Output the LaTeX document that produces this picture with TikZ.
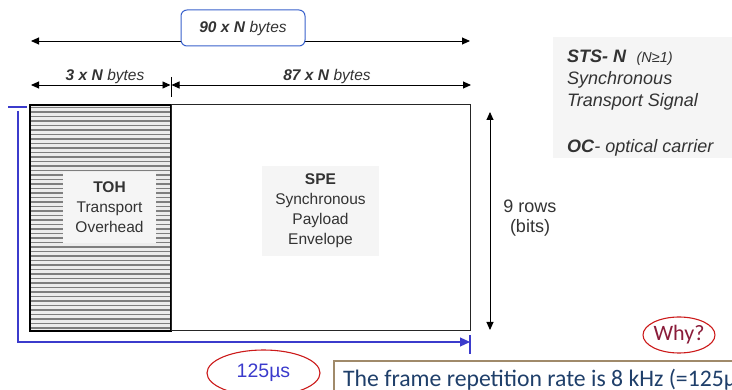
\documentclass[tikz,border=0pt]{standalone}
\usepackage{fontspec}
\setmainfont{Liberation Sans}
\newfontfamily\calibfont{Carlito}
\usetikzlibrary{arrows.meta,shapes.geometric}
\definecolor{labelgray}{HTML}{333333}
\definecolor{panelfill}{HTML}{F5F5F5}
\definecolor{hatchgray}{HTML}{7F7F7F}
\definecolor{hatchbg}{HTML}{EDEDED}
\definecolor{periodblue}{HTML}{3B3BCC}
\definecolor{boxblue}{HTML}{3A62CC}
\definecolor{ringred}{HTML}{CC1A1A}
\definecolor{whyred}{HTML}{8A1C3A}
\definecolor{notebrown}{HTML}{A08A6A}
\definecolor{noteblue}{HTML}{1F3F6A}
\tikzset{
  dimline/.style={draw=black, line width=0.9pt, {Triangle[length=8pt,width=7pt]}-{Triangle[length=8pt,width=7pt]}},
  sizefont/.style={font=\fontsize{15.5}{18}\selectfont, text=labelgray},
  blocklabel/.style={fill=panelfill, align=center, inner sep=0pt, text=labelgray, font=\fontsize{15.5}{20}\selectfont},
  sidefont/.style={font=\fontsize{18}{22}\selectfont, text=labelgray, align=left, anchor=west, inner sep=0pt},
  ring/.style={ellipse, draw=ringred, line width=1.1pt, inner sep=0pt},
  period/.style={draw=periodblue, line width=1.2pt}
}
\begin{document}
\begin{tikzpicture}[x=1pt,y=-1pt]
\clip (0,0) rectangle (732,390);
\fill[white] (0,0) rectangle (732,390);

% frame corners
\coordinate (fTL) at (30,105);
\coordinate (fDiv) at (171,105);
\coordinate (fDivB) at (171,331);
\coordinate (fBR) at (470,331);

% transport overhead columns: striped area
\fill[hatchbg] (fTL) rectangle (fDivB);
\foreach \yy in {107.5,112,...,329}
  \draw[hatchgray, line width=1.7pt] (30.5,\yy) -- (170.5,\yy);
\draw[black, line width=1.2pt] (fTL) rectangle (fDivB);
\draw[black!85, line width=1pt] (fDiv) rectangle (fBR);

% labels inside the frame
\node[blocklabel, minimum width=93pt, minimum height=71pt] (toh) at (109.5,207.5)
  {\textbf{TOH}\\Transport\\Overhead};
\node[blocklabel, minimum width=117pt, minimum height=90pt] (spe) at (320.5,211)
  {\textbf{SPE}\\Synchronous\\Payload\\Envelope};

% overall width
\coordinate (wL) at (31,41);
\coordinate (wR) at (470,41);
\draw[dimline] (wL) -- (wR);
\node[draw=boxblue, line width=1pt, rounded corners=6pt, fill=white,
      minimum width=124pt, minimum height=36pt, sizefont] (total) at (243,28)
  {\raisebox{-3pt}{\textbf{\textit{90 x N}} \textit{bytes}}};

% overhead and payload widths
\coordinate (pL) at (31,85);
\coordinate (pM1) at (170.5,85);
\coordinate (pM2) at (171.5,85);
\coordinate (pR) at (471,85);
\coordinate (tickT) at (171,77);
\coordinate (tickB) at (171,97);
\draw[dimline] (pL) -- (pM1);
\draw[dimline] (pM2) -- (pR);
\draw[black, line width=0.9pt] (tickT) -- (tickB);
\node[sizefont] (ohw) at (105,76) {\textbf{\textit{3 x N}} \textit{bytes}};
\node[sizefont] (plw) at (327,76) {\textbf{\textit{87 x N}} \textit{bytes}};

% row count
\coordinate (rT) at (490,112);
\coordinate (rB) at (490,330);
\draw[dimline] (rT) -- (rB);
\node[font=\fontsize{18}{19}\selectfont, text=labelgray, align=center, inner sep=0pt] (rows) at (530,218)
  {9 rows\\[1pt](bits)};

% side notes
\fill[panelfill] (553,37) rectangle (732,158);
\node[sidefont] (sts) at (567,58)
  {\textbf{\textit{STS- N}}\ \ {\fontsize{14.5}{16}\selectfont\textit{(N≥1)}}};
\node[sidefont] (stsname) at (567,80) {\textit{Synchronous}};
\node[sidefont] (stsname2) at (567,102) {\textit{Transport Signal}};
\node[sidefont] (oc) at (567,148) {\textbf{\textit{OC}}\textit{- optical carrier}};

% frame period bracket
\coordinate (bTickL) at (8,107);
\coordinate (bTickR) at (27,107);
\coordinate (bTop) at (18,111);
\coordinate (bCorner) at (18,342);
\coordinate (bEnd) at (470,342);
\coordinate (eTickT) at (470,335);
\coordinate (eTickB) at (470,354);
\draw[period] (bTickL) -- (bTickR);
\draw[period, -{Triangle[length=10pt,width=9pt]}] (bTop) -- (bCorner) -- (bEnd);
\draw[period] (eTickT) -- (eTickB);

\node[ring, minimum width=113pt, minimum height=46pt,
      font=\fontsize{19.5}{20}\selectfont, text=periodblue] (period) at (263.5,373) {125µs};

\node[ring, minimum width=68pt, minimum height=36pt,
      font=\calibfont\fontsize{22}{24}\selectfont, text=whyred] (why) at (679,335) {Why?};

% explanatory note, running off the right edge
\draw[notebrown, line width=1.5pt] (334,361) rectangle (760,420);
\node[anchor=base west, inner sep=0pt, font=\calibfont\fontsize{23.7}{26}\selectfont, text=noteblue] (note)
  at (343,386.5) {The frame repetition rate is 8 kHz (=125µ};
\end{tikzpicture}
\end{document}
